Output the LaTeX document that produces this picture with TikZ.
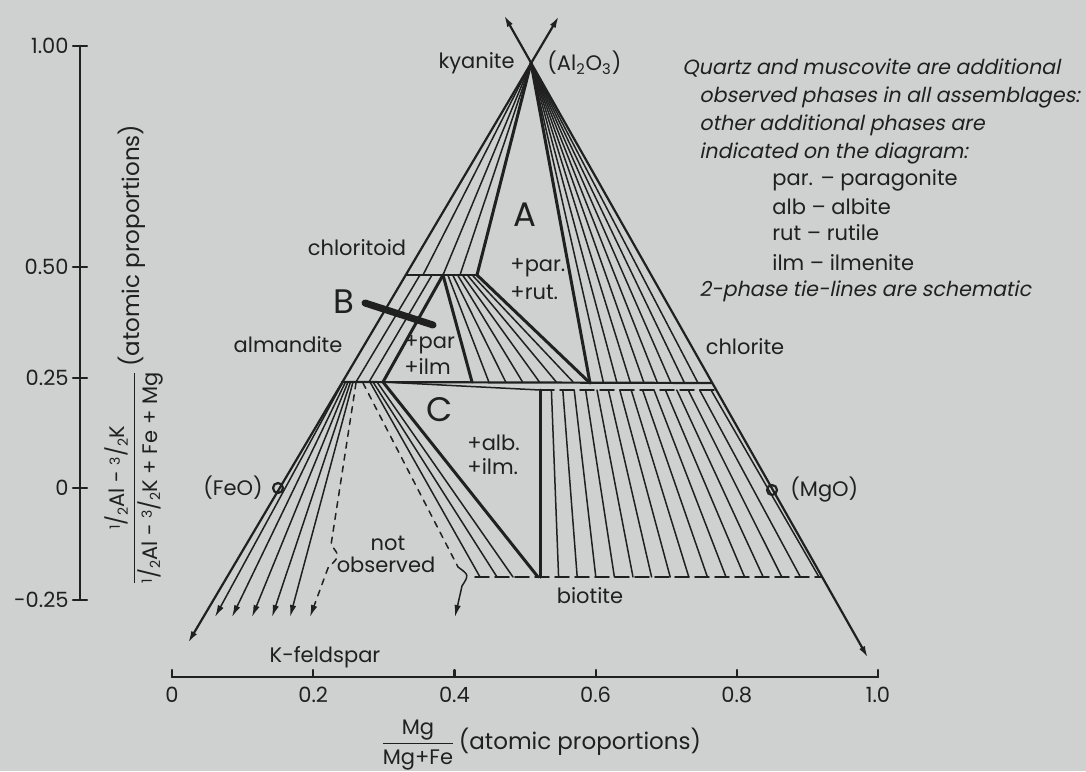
\documentclass[tikz,border=0pt]{standalone}
\usepackage{amsmath}
\usepackage{fontspec}
\setmainfont{Poppins}
\newfontfamily\notefont[FakeSlant=0.2]{Poppins}
\usepackage{tikz}
\usetikzlibrary{arrows.meta}
\definecolor{paper}{RGB}{206,209,208}
\definecolor{ink}{RGB}{32,32,32}
\newcommand{\slfrac}[2]{\raisebox{0.45ex}{\scriptsize #1}/\raisebox{-0.25ex}{\scriptsize #2}}

\begin{document}
\begin{tikzpicture}[>={Latex[length=6pt,width=3.2pt]}, x=0.5pt, y=-0.5pt, line cap=round,
    every node/.style={font=\fontsize{10.5}{12}\selectfont, text=ink, inner sep=1pt},
    edge/.style={ink, line width=1.1pt},
    tie/.style={ink, line width=0.75pt},
    bnd/.style={ink, line width=1.5pt},
    ss/.style={ink, line width=0.8pt, dash pattern=on 7pt off 3pt},
    big/.style={font=\fontsize{17}{17}\selectfont},
    note/.style={font=\notefont\fontsize{10.3}{12}\selectfont, anchor=west}]

    \fill[paper] (0,0) rectangle (1086,771);
    \useasboundingbox (0,0) rectangle (1086,771);

    % kyanite apex and the two outer lines
    \coordinate (ky) at (531,63);
    \draw[edge, <->] (188,643) -- (559,16);
    \draw[edge, <->] (868,658) -- (504,15);

    % solid solutions
    \draw[edge] (406,275) -- (477,275);
    \draw[edge] (342,382) -- (712,383);
    \draw[tie] (383,382) -- (540,390);
    \draw[ss] (540,390) -- (716,390);
    \draw[ss] (475,577) -- (822,577);

    % A: kyanite fans
    \foreach \x in {423,443,460}
        \draw[tie] (ky) -- (\x,275);
    \draw[bnd] (ky) -- (477,275);
    \foreach \k in {1,...,8}
        \draw[tie] (ky) -- ({590+13.5*\k},383);
    \draw[bnd] (ky) -- (590,383);

    % chloritoid ties
    \foreach \a/\b in {420/356, 432/369}
        \draw[tie] (\a,275) -- (\b,382);
    \draw[bnd] (443,275) -- (383,382);
    \foreach \k in {1,...,6}
        \draw[tie] ({443+34*\k/7},275) -- ({472+118*\k/7},382);
    \draw[bnd] (443,275) -- (472,382);
    \draw[bnd] (477,275) -- (590,383);

    % garnet lines towards K-feldspar
    \foreach \a/\b in {343/215, 345.5/232, 348/252, 350.5/272, 353/290}
        \draw[tie, ->] (\a,382) -- (\b,617);
    \draw[tie, dashed, ->] (356,383) -- (331,545) .. controls (340,556) .. (328,568) -- (310,617);
    \draw[tie, dashed] (363,383) -- (458,567);
    \draw[tie, ->] (458,567) .. controls (469,575) .. (462,586) -- (455,617);

    % garnet - biotite and chlorite - biotite
    \foreach \a/\b in {370/480, 373/497, 377/513}
        \draw[tie] (\a,382) -- (\b,577);
    \draw[bnd] (383,382) -- (538,577);
    \foreach \k in {1,...,15}
        \draw[tie] ({540+11.4*\k},390) -- ({540+18.6*\k},577);
    \draw[bnd] (540,390) -- (540,577);

    \draw[ink, line width=3.5pt] (365,303) -- (433,325);
    \draw[edge] (278,488) circle (5);
    \draw[edge] (772,490) circle (5);

    % axes
    \draw[edge] (80,46) -- (80,600);
    \foreach \y/\lab in {46/1.00, 267/0.50, 378/0.25, 488/0, 600/-0.25} {
        \draw[edge] (73,\y) -- (87,\y);
        \node[anchor=east] at (71,\y) {\lab};
    }
    \draw[edge] (172,677) -- (878,677);
    \foreach \k/\lab in {0/0, 1/0.2, 2/0.4, 3/0.6, 4/0.8, 5/1.0} {
        \draw[edge] ({172+141.2*\k},677) -- ({172+141.2*\k},670);
        \node at ({172+141.2*\k},695) {\lab};
    }
    \node[rotate=90, anchor=west] at (134,588)
        {$\dfrac{\mbox{\slfrac12Al - \slfrac32K}}{\mbox{\slfrac12Al - \slfrac32K + Fe + Mg}}$\,{\fontsize{11.5}{13}\selectfont(atomic proportions)}};
    \node[anchor=west] at (378,745)
        {$\dfrac{\mbox{Mg}}{\mbox{Mg+Fe}}$\,{\fontsize{11.5}{13}\selectfont(atomic proportions)}};

    % phase labels
    \node[anchor=east] at (517,63) {kyanite};
    \node[anchor=west] at (545,63) {(Al\textsubscript{2}O\textsubscript{3})};
    \node at (357,248) {chloritoid};
    \node at (288,345) {almandite};
    \node at (745,347) {chlorite};
    \node at (590,596) {biotite};
    \node at (325,657) {K-feldspar};
    \node[anchor=east] at (265,488) {(FeO)};
    \node[anchor=west] at (788,490) {(MgO)};
    \node at (388,543) {not};
    \node at (386,565) {observed};

    \node[big] at (525,215) {A};
    \node[big] at (344,302) {B};
    \node[big] at (440,410) {C};
    \node[anchor=west] at (508,268) {+par.};
    \node[anchor=west] at (508,292) {+rut.};
    \node[anchor=west] at (402,345) {+par};
    \node[anchor=west] at (402,367) {+ilm};
    \node[anchor=west] at (465,443) {+alb.};
    \node[anchor=west] at (465,467) {+ilm.};

    % notes
    \node[note] at (680,68) {Quartz and muscovite are additional};
    \node[note] at (697,97) {observed phases in all assemblages:};
    \node[note] at (697,125) {other additional phases are};
    \node[note] at (697,153) {indicated on the diagram:};
    \node[anchor=west] at (770,180) {par. -- paragonite};
    \node[anchor=west] at (770,207) {alb -- albite};
    \node[anchor=west] at (770,233) {rut -- rutile};
    \node[anchor=west] at (770,263) {ilm -- ilmenite};
    \node[note] at (697,291) {2-phase tie-lines are schematic};
\end{tikzpicture}
\end{document}
